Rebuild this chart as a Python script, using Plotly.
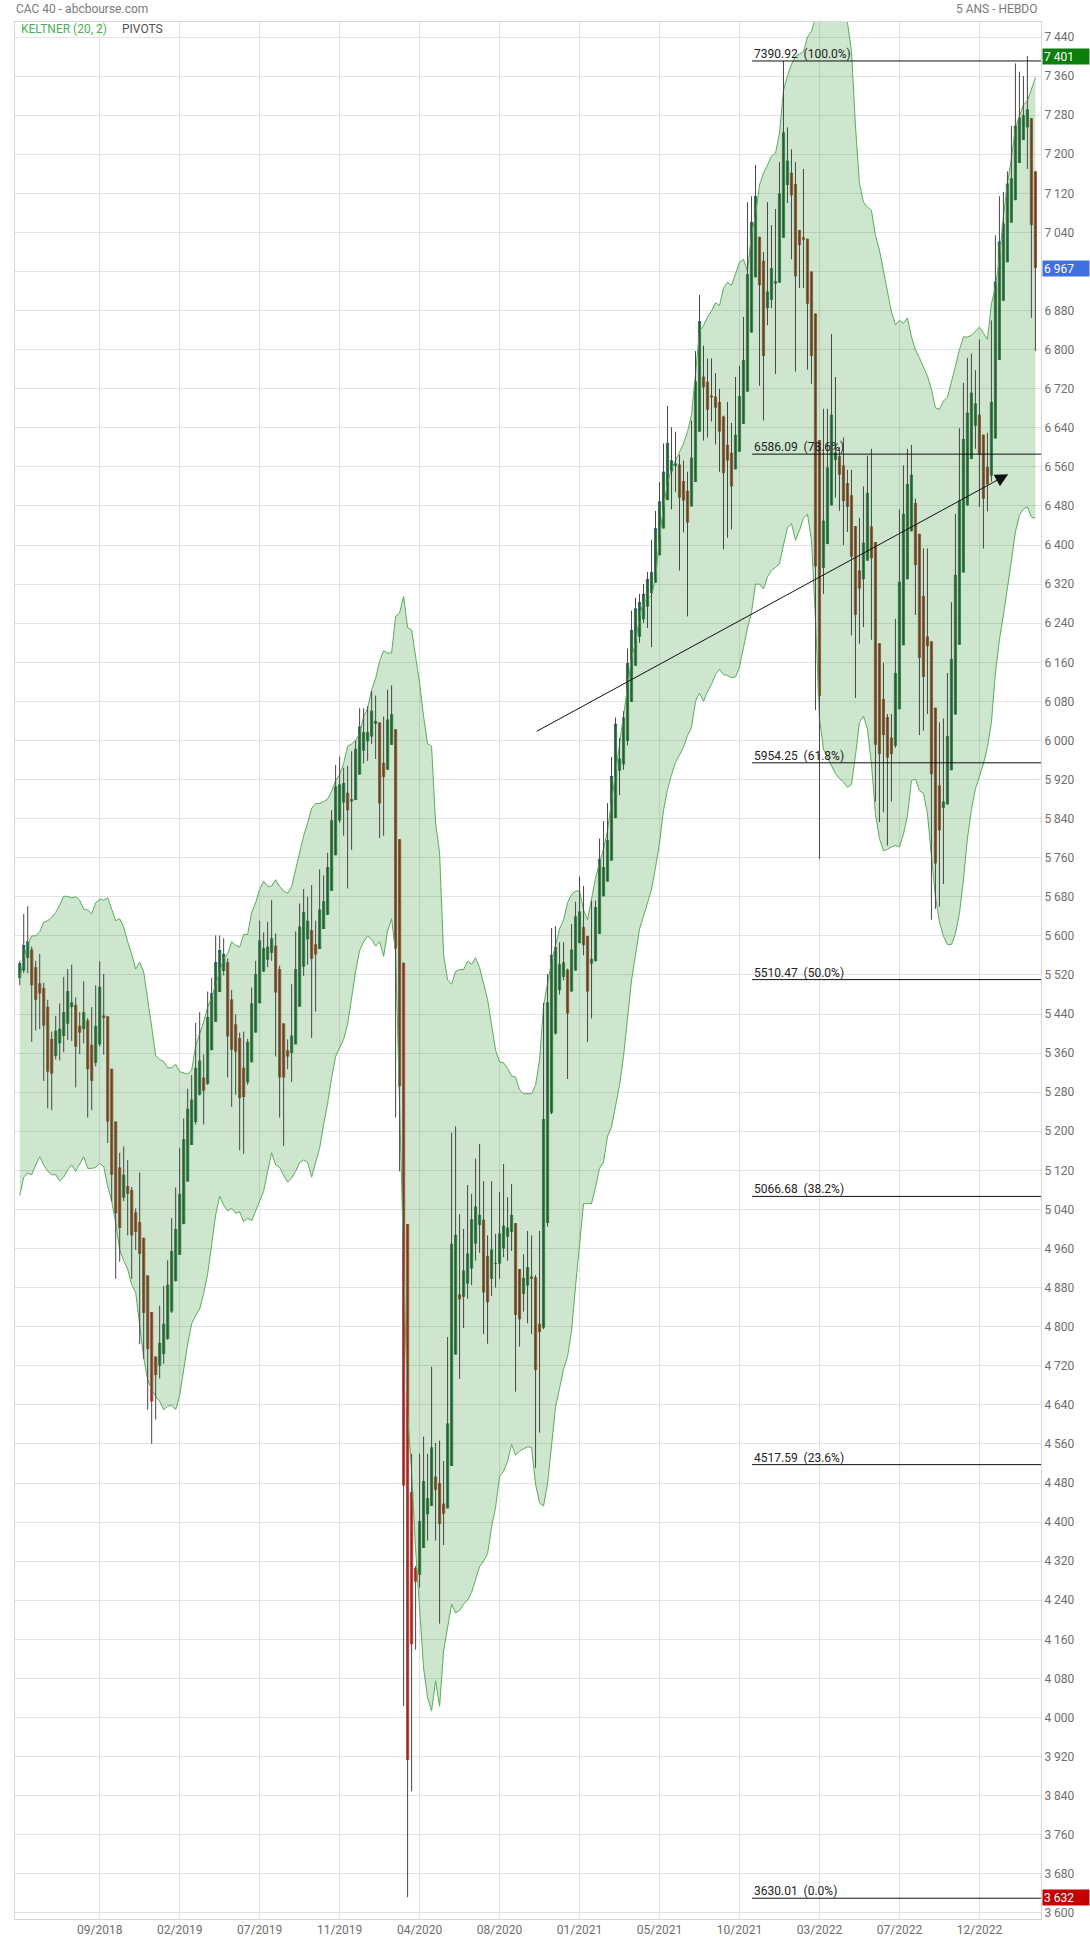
import plotly.graph_objects as go

# ---------------- data (weekly Heikin-Ashi candles, CAC 40, 5 years) ----------------
OPEN = [
    5514, 5529, 5555, 5572, 5536, 5503, 5493, 5455, 5389, 5354,
    5380, 5395, 5420, 5454, 5459, 5416, 5409, 5427, 5377, 5340,
    5378, 5437, 5435, 5328, 5220, 5126, 5064, 5088, 5080, 5034,
    5014, 4982, 4905, 4830, 4739, 4720, 4744, 4775, 4831, 4893,
    4947, 5010, 5097, 5172, 5219, 5275, 5310, 5297, 5366, 5424,
    5485, 5528, 5546, 5470, 5419, 5391, 5330, 5300, 5342, 5402,
    5462, 5527, 5551, 5565, 5580, 5532, 5421, 5366, 5360, 5378,
    5455, 5537, 5593, 5612, 5583, 5573, 5614, 5643, 5692, 5765,
    5836, 5873, 5893, 5875, 5878, 5930, 5979, 5998, 6008, 6034,
    6037, 5954, 5940, 5991, 6023, 5798, 5545, 5010, 4462, 4306,
    4292, 4347, 4416, 4433, 4493, 4480, 4438, 4428, 4515, 4743,
    4866, 4861, 4888, 4919, 4970, 5008, 5019, 4945, 4898, 4928,
    4929, 4960, 4984, 4994, 5012, 4918, 4867, 4884, 4903, 4901,
    4806, 4798, 5012, 5238, 5400, 5489, 5516, 5531, 5486, 5529,
    5585, 5618, 5600, 5543, 5548, 5604, 5681, 5711, 5754, 5841,
    5938, 5951, 5999, 6079, 6153, 6212, 6248, 6274, 6302, 6323,
    6379, 6434, 6492, 6551, 6562, 6565, 6531, 6511, 6479, 6529,
    6632, 6745, 6734, 6706, 6704, 6693, 6663, 6605, 6589, 6555,
    6591, 6648, 6714, 6835, 6948, 7031, 6982, 6885, 6902, 6935,
    6937, 7029, 7137, 7162, 7139, 7045, 7030, 7027, 6960, 6874,
    6615, 6353, 6402, 6481, 6574, 6582, 6563, 6527, 6502, 6439,
    6348, 6330, 6368, 6438, 6406, 6199, 6085, 6048, 6006, 5989,
    6064, 6195, 6330, 6428, 6486, 6423, 6296, 6213, 6203, 6067,
    5908, 5862, 5869, 5939, 6053, 6196, 6344, 6481, 6576, 6644,
    6667, 6626, 6560, 6542, 6618, 6779, 6900, 6979, 7060, 7106,
    7182, 7229, 7255, 7274, 7165]

HIGH = [
    5549, 5645, 5661, 5578, 5549, 5563, 5504, 5469, 5404, 5436,
    5462, 5516, 5532, 5541, 5474, 5444, 5507, 5432, 5454, 5499,
    5548, 5522, 5436, 5328, 5220, 5156, 5169, 5141, 5086, 5042,
    5116, 4982, 4905, 4830, 4739, 4843, 4883, 4936, 5022, 5085,
    5166, 5226, 5287, 5315, 5422, 5444, 5357, 5486, 5514, 5601,
    5601, 5595, 5554, 5489, 5439, 5402, 5404, 5389, 5494, 5549,
    5631, 5607, 5629, 5673, 5605, 5539, 5421, 5388, 5501, 5609,
    5666, 5696, 5680, 5704, 5631, 5736, 5724, 5770, 5857, 5950,
    5967, 5944, 5948, 5978, 6000, 6066, 6066, 6070, 6101, 6092,
    6037, 6049, 6104, 6113, 6023, 5798, 5545, 5010, 4540, 4310,
    4540, 4575, 4540, 4718, 4562, 4567, 4525, 4779, 5197, 5210,
    5030, 5000, 5090, 5072, 5144, 5174, 5098, 4987, 5098, 4990,
    5076, 5133, 5065, 5092, 5012, 4918, 4948, 4996, 4987, 4906,
    4996, 5463, 5522, 5616, 5620, 5587, 5587, 5533, 5624, 5670,
    5722, 5702, 5600, 5672, 5672, 5799, 5835, 5872, 5966, 6047,
    6005, 6060, 6188, 6266, 6292, 6300, 6320, 6345, 6411, 6470,
    6529, 6608, 6685, 6641, 6632, 6585, 6573, 6550, 6655, 6797,
    6912, 6808, 6782, 6782, 6752, 6720, 6665, 6693, 6650, 6744,
    6767, 6867, 7102, 7114, 7178, 7031, 7000, 7102, 7055, 7088,
    7184, 7391, 7255, 7210, 7184, 7045, 7170, 7027, 6960, 6874,
    6615, 6679, 6679, 6832, 6744, 6600, 6620, 6554, 6554, 6439,
    6456, 6520, 6583, 6597, 6406, 6199, 6159, 6054, 6054, 6249,
    6473, 6563, 6597, 6605, 6495, 6423, 6393, 6393, 6203, 6067,
    6037, 6045, 6138, 6283, 6464, 6639, 6732, 6783, 6792, 6758,
    6821, 6626, 6630, 6860, 7034, 7114, 7123, 7165, 7258, 7386,
    7369, 7360, 7401, 7274, 7165]

LOW = [
    5499, 5524, 5524, 5383, 5406, 5409, 5303, 5247, 5243, 5347,
    5345, 5362, 5387, 5385, 5290, 5358, 5380, 5228, 5243, 5333,
    5373, 5357, 5176, 5057, 4898, 4933, 5057, 4987, 4898, 4957,
    4764, 4734, 4630, 4560, 4610, 4694, 4724, 4773, 4828, 4893,
    4947, 5010, 5097, 5172, 5214, 5273, 5214, 5295, 5366, 5424,
    5485, 5519, 5310, 5250, 5275, 5161, 5154, 5295, 5340, 5402,
    5462, 5526, 5536, 5549, 5353, 5228, 5170, 5327, 5301, 5378,
    5455, 5518, 5541, 5391, 5445, 5573, 5614, 5643, 5692, 5765,
    5831, 5805, 5697, 5776, 5878, 5930, 5953, 5958, 5993, 5962,
    5800, 5805, 5940, 5991, 5228, 5118, 4023, 3632, 3849, 4139,
    4266, 4347, 4362, 4433, 4362, 4192, 4353, 4428, 4515, 4743,
    4693, 4797, 4857, 4885, 4935, 4951, 4785, 4765, 4863, 4880,
    4898, 4942, 4935, 4955, 4667, 4759, 4831, 4807, 4785, 4511,
    4583, 4795, 5005, 5235, 5398, 5480, 5509, 5307, 5486, 5529,
    5585, 5560, 5383, 5431, 5548, 5604, 5681, 5711, 5754, 5841,
    5888, 5940, 5990, 6079, 6153, 6200, 6240, 6230, 6191, 6323,
    6379, 6434, 6492, 6473, 6509, 6348, 6426, 6254, 6479, 6529,
    6632, 6614, 6620, 6653, 6606, 6550, 6391, 6415, 6432, 6555,
    6591, 6648, 6714, 6835, 6948, 6726, 6655, 6850, 6885, 6750,
    6937, 7029, 7100, 6985, 6755, 6926, 6926, 6759, 6730, 6062,
    5757, 6300, 6402, 6481, 6497, 6470, 6400, 6427, 6215, 6087,
    6198, 6232, 6368, 6206, 5875, 5833, 5853, 5785, 5875, 5985,
    6064, 6195, 6330, 6428, 6257, 6011, 6020, 6054, 5633, 5655,
    5660, 5706, 5869, 5939, 6053, 6196, 6344, 6481, 6576, 6597,
    6478, 6393, 6469, 6530, 6618, 6779, 6900, 6979, 7060, 7106,
    7182, 7229, 7170, 6865, 6797]

CLOSE = [
    5544, 5581, 5588, 5499, 5469, 5482, 5416, 5322, 5318, 5406,
    5410, 5444, 5487, 5464, 5373, 5402, 5444, 5327, 5303, 5416,
    5496, 5432, 5220, 5111, 5032, 5002, 5111, 5072, 4987, 4994,
    4949, 4828, 4754, 4647, 4701, 4767, 4806, 4886, 4955, 5000,
    5072, 5184, 5246, 5265, 5330, 5345, 5283, 5434, 5482, 5546,
    5571, 5563, 5394, 5367, 5363, 5268, 5270, 5383, 5462, 5522,
    5591, 5575, 5578, 5595, 5484, 5310, 5310, 5353, 5396, 5532,
    5619, 5649, 5631, 5553, 5562, 5654, 5671, 5741, 5837, 5906,
    5910, 5913, 5857, 5880, 5983, 6028, 6017, 6017, 6061, 6040,
    5871, 5925, 6043, 6054, 5574, 5292, 4475, 3913, 4150, 4278,
    4402, 4484, 4449, 4553, 4466, 4396, 4417, 4602, 4970, 4988,
    4856, 4915, 4950, 5020, 5046, 5029, 4870, 4850, 4958, 4930,
    4991, 5007, 5003, 5029, 4824, 4815, 4900, 4922, 4898, 4711,
    4789, 5225, 5464, 5561, 5577, 5542, 5546, 5441, 5572, 5640,
    5650, 5581, 5486, 5553, 5659, 5757, 5741, 5796, 5927, 6034,
    5963, 6047, 6158, 6226, 6270, 6283, 6300, 6330, 6344, 6434,
    6489, 6550, 6609, 6573, 6567, 6497, 6491, 6446, 6579, 6735,
    6858, 6723, 6677, 6702, 6681, 6632, 6547, 6573, 6520, 6626,
    6705, 6779, 6955, 7061, 7114, 6932, 6787, 6919, 6967, 6940,
    7120, 7245, 7187, 7116, 6950, 7014, 7025, 6894, 6787, 6356,
    6091, 6450, 6559, 6667, 6590, 6544, 6490, 6478, 6376, 6257,
    6311, 6405, 6507, 6373, 5991, 5972, 6011, 5965, 5972, 6138,
    6325, 6464, 6525, 6544, 6359, 6169, 6130, 6193, 5931, 5748,
    5816, 5875, 6009, 6167, 6339, 6491, 6617, 6671, 6712, 6690,
    6585, 6495, 6524, 6693, 6939, 7021, 7058, 7140, 7151, 7258,
    7275, 7280, 7292, 7055, 6967]

KELTNER_UPPER = [
    5514, 5553, 5583, 5600, 5600, 5608, 5628, 5631, 5638, 5648,
    5663, 5681, 5681, 5678, 5680, 5673, 5655, 5653, 5645, 5668,
    5675, 5673, 5678, 5653, 5631, 5635, 5618, 5588, 5563, 5532,
    5546, 5526, 5474, 5414, 5355, 5347, 5343, 5330, 5330, 5337,
    5322, 5320, 5317, 5325, 5375, 5399, 5424, 5454, 5474, 5501,
    5529, 5553, 5563, 5588, 5581, 5577, 5603, 5603, 5648, 5668,
    5695, 5712, 5701, 5702, 5715, 5701, 5692, 5687, 5701, 5736,
    5770, 5805, 5831, 5861, 5871, 5871, 5875, 5880, 5896, 5918,
    5930, 5953, 5988, 5993, 6000, 6014, 6049, 6066, 6104, 6127,
    6162, 6184, 6179, 6179, 6254, 6261, 6295, 6231, 6226, 6170,
    6118, 6049, 5993, 5988, 5831, 5770, 5562, 5510, 5501, 5527,
    5531, 5531, 5548, 5542, 5555, 5535, 5503, 5470, 5418, 5366,
    5342, 5340, 5329, 5313, 5311, 5285, 5277, 5277, 5277, 5294,
    5346, 5457, 5503, 5548, 5581, 5614, 5633, 5668, 5685, 5692,
    5692, 5653, 5633, 5679, 5718, 5751, 5777, 5816, 5875, 5929,
    5992, 6051, 6110, 6168, 6201, 6253, 6285, 6290, 6297, 6332,
    6415, 6479, 6526, 6556, 6573, 6591, 6608, 6632, 6667, 6750,
    6838, 6849, 6867, 6879, 6896, 6890, 6926, 6938, 6932, 6955,
    6979, 6985, 6961, 7037, 7073, 7137, 7161, 7178, 7196, 7202,
    7243, 7331, 7361, 7384, 7400, 7405, 7410, 7440, 7452, 7480,
    7520, 7540, 7550, 7550, 7540, 7520, 7500, 7470, 7411, 7258,
    7140, 7102, 7092, 7085, 7034, 7004, 6961, 6919, 6877, 6851,
    6860, 6854, 6865, 6826, 6800, 6783, 6766, 6746, 6719, 6681,
    6678, 6695, 6702, 6732, 6766, 6800, 6826, 6826, 6829, 6838,
    6846, 6834, 6821, 6894, 6928, 6987, 7072, 7140, 7191, 7255,
    7279, 7301, 7309, 7335, 7357]

KELTNER_LOWER = [
    5069, 5106, 5114, 5111, 5131, 5148, 5131, 5118, 5111, 5111,
    5098, 5106, 5121, 5131, 5118, 5134, 5148, 5124, 5124, 5126,
    5134, 5128, 5087, 5057, 5012, 4957, 4935, 4918, 4886, 4870,
    4800, 4737, 4691, 4671, 4657, 4647, 4630, 4637, 4639, 4630,
    4659, 4711, 4764, 4806, 4823, 4836, 4868, 4908, 4967, 5029,
    5067, 5049, 5037, 5042, 5032, 5035, 5015, 5022, 5017, 5037,
    5055, 5077, 5118, 5156, 5131, 5126, 5110, 5096, 5104, 5118,
    5136, 5141, 5136, 5106, 5136, 5165, 5214, 5257, 5310, 5353,
    5371, 5388, 5419, 5478, 5527, 5570, 5588, 5600, 5593, 5579,
    5588, 5558, 5610, 5635, 5565, 5252, 4953, 4623, 4501, 4344,
    4223, 4101, 4040, 4014, 4075, 4023, 4136, 4185, 4232, 4214,
    4219, 4232, 4240, 4256, 4283, 4309, 4320, 4335, 4390, 4430,
    4494, 4504, 4524, 4559, 4537, 4545, 4550, 4554, 4553, 4478,
    4439, 4433, 4478, 4557, 4635, 4674, 4713, 4739, 4791, 4883,
    4974, 5052, 5052, 5052, 5085, 5124, 5137, 5190, 5209, 5248,
    5294, 5353, 5431, 5509, 5561, 5614, 5640, 5666, 5695, 5740,
    5790, 5857, 5900, 5930, 5955, 5970, 5986, 6010, 6027, 6080,
    6097, 6080, 6100, 6115, 6135, 6145, 6135, 6133, 6128, 6130,
    6150, 6190, 6230, 6262, 6320, 6320, 6310, 6335, 6348, 6354,
    6362, 6400, 6435, 6444, 6410, 6430, 6455, 6463, 6410, 6250,
    6045, 5982, 5965, 5950, 5932, 5922, 5915, 5904, 5910, 5969,
    6037, 6050, 6023, 5952, 5850, 5799, 5774, 5777, 5782, 5785,
    5782, 5808, 5846, 5918, 5921, 5897, 5892, 5850, 5765, 5680,
    5629, 5599, 5582, 5582, 5604, 5646, 5714, 5799, 5858, 5901,
    5926, 5952, 5986, 6037, 6138, 6206, 6257, 6308, 6367, 6427,
    6461, 6474, 6478, 6457, 6455]

X_TICK_POS = [20, 40, 60, 80, 100, 120, 140, 160, 180, 200, 220, 240]
X_TICK_LABELS = ["09/2018", "02/2019", "07/2019", "11/2019", "04/2020", "08/2020",
                 "01/2021", "05/2021", "10/2021", "03/2022", "07/2022", "12/2022"]

Y_TICK_MIN, Y_TICK_MAX, Y_TICK_STEP = 3600, 7440, 80

FIB_LEVELS = [7390.92, 6586.09, 5954.25, 5510.47, 5066.68, 4517.59, 3630.01]
FIB_PCTS = ["100.0%", "78.6%", "61.8%", "50.0%", "38.2%", "23.6%", "0.0%"]

TREND_START = (128.9, 6017)
TREND_END = (247.2, 6545)

TAG_HIGH = 7401
TAG_LAST = 6967
TAG_LOW = 3632

# ---------------- styling ----------------
FONT = "Roboto, 'Open Sans', Arial, sans-serif"
UP_COLOR = "#2e8549"
DOWN_COLOR = "#b24e2f"
BELOW_COLOR = "#e0403a"
ABOVE_COLOR = "#3858d8"
WICK_COLOR = "#474747"
BAND_LINE = "rgb(90,172,90)"
BAND_FILL = "rgba(60,160,60,0.26)"
GRID = "#e2e2e2"
TICK_COLOR = "#6e6e6e"

N = len(CLOSE)
X = list(range(N))

fig = go.Figure()

# Keltner channel
fig.add_trace(go.Scatter(x=X, y=KELTNER_LOWER, mode="lines",
                         line=dict(color=BAND_LINE, width=1),
                         hoverinfo="skip", showlegend=False))
fig.add_trace(go.Scatter(x=X, y=KELTNER_UPPER, mode="lines",
                         line=dict(color=BAND_LINE, width=1),
                         fill="tonexty", fillcolor=BAND_FILL,
                         hoverinfo="skip", showlegend=False))

# wicks
wx, wy = [], []
for i in X:
    wx += [i, i, None]
    wy += [LOW[i], HIGH[i], None]
fig.add_trace(go.Scatter(x=wx, y=wy, mode="lines",
                         line=dict(color=WICK_COLOR, width=1),
                         hoverinfo="skip", showlegend=False))

# bodies
MIN_BODY = 2.5
bases, heights, colors = [], [], []
top_x, top_base = [], []
for i in X:
    o, c = OPEN[i], CLOSE[i]
    lo, hi = min(o, c), max(o, c)
    h = max(hi - lo, MIN_BODY)
    bases.append(lo)
    heights.append(h)
    if c >= o:
        colors.append(UP_COLOR)
        if c > KELTNER_UPPER[i]:
            top_x.append(i)
            top_base.append(lo + h - 2.2)
    else:
        colors.append(BELOW_COLOR if c < KELTNER_LOWER[i] else DOWN_COLOR)

fig.add_trace(go.Bar(x=X, y=heights, base=bases, width=0.8,
                     marker=dict(color=colors, line=dict(width=0)),
                     hoverinfo="skip", showlegend=False))
fig.add_trace(go.Bar(x=top_x, y=[2.2] * len(top_x), base=top_base, width=0.8,
                     marker=dict(color=ABOVE_COLOR, line=dict(width=0)),
                     hoverinfo="skip", showlegend=False))

y_vals = list(range(Y_TICK_MIN, Y_TICK_MAX + 1, Y_TICK_STEP))
y_text = [f"{v:,}".replace(",", " ") for v in y_vals]

fig.update_layout(
    width=1090, height=1942,
    margin=dict(l=15, r=49, t=22, b=23, autoexpand=False),
    paper_bgcolor="white", plot_bgcolor="white",
    barmode="overlay", showlegend=False, hovermode=False,
    font=dict(family=FONT, size=12, color=TICK_COLOR),
)
fig.update_xaxes(range=[-1.18, 255.4], tickmode="array", tickvals=X_TICK_POS,
                 ticktext=X_TICK_LABELS, showgrid=True, gridcolor=GRID, gridwidth=1,
                 zeroline=False, showline=True, linecolor="#d6d6d6", linewidth=1,
                 mirror=True, ticks="", automargin=False,
                 tickfont=dict(family=FONT, size=12, color=TICK_COLOR))
fig.update_yaxes(range=[3587.5, 7470.7], side="right", tickmode="array",
                 tickvals=y_vals, ticktext=y_text, showgrid=True, gridcolor=GRID,
                 gridwidth=1, zeroline=False, showline=True, linecolor="#d6d6d6",
                 linewidth=1, mirror=True, ticks="", automargin=False,
                 tickfont=dict(family=FONT, size=12, color=TICK_COLOR))

# Fibonacci retracement
FIB_X0 = 0.7184
shapes = []
annotations = []
for lvl, pct in zip(FIB_LEVELS, FIB_PCTS):
    shapes.append(dict(type="line", xref="paper", yref="y", x0=FIB_X0, x1=1.0,
                       y0=lvl, y1=lvl, line=dict(color="#111111", width=1)))
    annotations.append(dict(xref="paper", yref="y", x=FIB_X0, y=lvl,
                            xanchor="left", yanchor="bottom", yshift=-2,
                            text=f"{lvl:.2f}\u00a0\u00a0({pct})", showarrow=False,
                            font=dict(family=FONT, size=12, color="#222222")))

# trend line with arrow
annotations.append(dict(x=TREND_END[0], y=TREND_END[1], xref="x", yref="y",
                        ax=TREND_START[0], ay=TREND_START[1], axref="x", ayref="y",
                        text="", showarrow=True, arrowhead=2, arrowsize=2.6,
                        arrowwidth=1, arrowcolor="#111111", standoff=0))

# headers
annotations.append(dict(xref="paper", yref="paper", x=0, y=1, xanchor="left",
                        yanchor="middle", yshift=13, xshift=-1,
                        text="CAC 40 - abcbourse.com", showarrow=False,
                        font=dict(family=FONT, size=12, color="#7a7a7a")))
annotations.append(dict(xref="paper", yref="paper", x=1, y=1, xanchor="right",
                        yanchor="middle", yshift=13, xshift=-1,
                        text="5 ANS - HEBDO", showarrow=False,
                        font=dict(family=FONT, size=12, color="#7a7a7a")))
annotations.append(dict(xref="paper", yref="paper", x=0, y=1, xanchor="left",
                        yanchor="middle", yshift=-7, xshift=4,
                        text="KELTNER (20, 2)", showarrow=False,
                        font=dict(family=FONT, size=12, color="#4caf50")))
annotations.append(dict(xref="paper", yref="paper", x=0, y=1, xanchor="left",
                        yanchor="middle", yshift=-7, xshift=105,
                        text="PIVOTS", showarrow=False,
                        font=dict(family=FONT, size=12, color="#505050")))

# price tags on the right
for val, col in [(TAG_HIGH, "#0b7f0b"), (TAG_LAST, "#3f6fe0"), (TAG_LOW, "#c40000")]:
    annotations.append(dict(xref="paper", yref="y", x=1, y=val, xanchor="left",
                            yanchor="middle", xshift=1,
                            text=f"{val:,}".replace(",", " "), showarrow=False,
                            bgcolor=col, borderpad=1, width=44, height=13, align="left",
                            font=dict(family=FONT, size=12, color="white")))

fig.update_layout(shapes=shapes, annotations=annotations)

fig.write_html("out.html",
               config={"displayModeBar": False, "staticPlot": True},
               post_script="document.body.style.margin='0px';"
                           "document.body.style.padding='0px';"
                           "document.documentElement.style.overflow='hidden';")
